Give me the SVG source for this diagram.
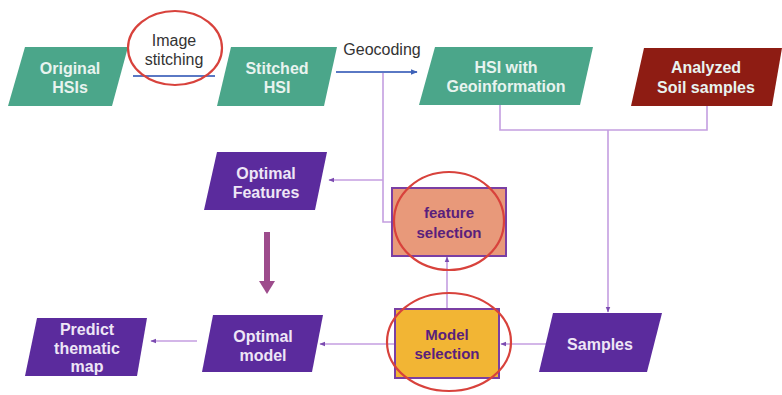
<svg xmlns="http://www.w3.org/2000/svg" width="782" height="395" viewBox="0 0 782 395">
<defs>
<style>
.teal{fill:#4ba68a}
.red{fill:#8e1c13}
.purp{fill:#5b2b9d}
.tw{font-family:"Liberation Sans",Arial,sans-serif;font-weight:bold;font-size:16px;fill:#e8f3ef;text-anchor:middle}
.pw{font-family:"Liberation Sans",Arial,sans-serif;font-weight:bold;font-size:16px;fill:#eee6f6;text-anchor:middle}
.dk{font-family:"Liberation Sans",Arial,sans-serif;font-weight:bold;font-size:15px;fill:#5a1f7c;text-anchor:middle}
.lbl{font-family:"Liberation Sans",Arial,sans-serif;font-size:16px;fill:#333;text-anchor:middle}
.conn{fill:none;stroke:#c49ee0;stroke-width:1.6}
.blue{fill:none;stroke:#5a78c4;stroke-width:2}
.ring{fill:none;stroke:#d8423c;stroke-width:2.2}
</style>
<marker id="ah" viewBox="0 0 10 10" refX="9" refY="5" markerWidth="6" markerHeight="6" orient="auto-start-reverse" markerUnits="userSpaceOnUse">
<path d="M0,1 L10,5 L0,9 z" fill="#7b4bb0"/>
</marker>
<marker id="ahb" viewBox="0 0 10 10" refX="9" refY="5" markerWidth="7" markerHeight="7" orient="auto" markerUnits="userSpaceOnUse">
<path d="M0,1 L10,5 L0,9 z" fill="#3e62b8"/>
</marker>
</defs>
<rect width="782" height="395" fill="#ffffff"/>

<g id="connectors">
<line class="blue" x1="133" y1="76" x2="215" y2="76"/>
<line class="blue" x1="336" y1="72" x2="417" y2="72" marker-end="url(#ahb)"/>
<polyline class="conn" points="383,73 383,222 392,222"/>
<line class="conn" x1="383" y1="180" x2="329" y2="180" marker-end="url(#ah)"/>
<polyline class="conn" points="500,105 500,130 707,130 707,106"/>
<line class="conn" x1="608" y1="130" x2="608" y2="312" marker-end="url(#ah)"/>
<line class="conn" x1="546" y1="344" x2="501" y2="344" marker-end="url(#ah)"/>
<line class="conn" x1="447" y1="309" x2="447" y2="257" marker-end="url(#ah)"/>
<line class="conn" x1="395" y1="344" x2="320" y2="344" marker-end="url(#ah)"/>
<line class="conn" x1="197" y1="341" x2="151" y2="341" marker-end="url(#ah)"/>
<line x1="267" y1="232" x2="267" y2="282" stroke="#9d4c8c" stroke-width="6"/>
<path d="M259,281 L275,281 L267,294 z" fill="#9d4c8c"/>
</g>

<g id="original-hsis">
<path class="teal" d="M25,47 L128,47 L112,106 L8,106 z"/>
<text class="tw" x="70" y="74">Original</text>
<text class="tw" x="70" y="93">HSIs</text>
</g>

<g id="image-stitching">
<text class="lbl" x="174" y="46">Image</text>
<text class="lbl" x="174" y="65">stitching</text>
<ellipse class="ring" cx="175" cy="48" rx="47" ry="37"/>
</g>

<g id="stitched-hsi">
<path class="teal" d="M231,47 L337,47 L324,106 L217,106 z"/>
<text class="tw" x="277" y="74">Stitched</text>
<text class="tw" x="277" y="93">HSI</text>
</g>

<g id="geocoding">
<text class="lbl" x="382" y="55">Geocoding</text>
</g>

<g id="hsi-geo">
<path class="teal" d="M435,47 L593,47 L580,105 L419,105 z"/>
<text class="tw" x="506" y="73">HSI with</text>
<text class="tw" x="506" y="92">Geoinformation</text>
</g>

<g id="analyzed-soil">
<path class="red" d="M644,48 L782,48 L772,106 L631,106 z"/>
<text class="tw" x="706" y="73">Analyzed</text>
<text class="tw" x="706" y="93">Soil samples</text>
</g>

<g id="optimal-features">
<path class="purp" d="M217,152 L327,152 L315,210 L204,210 z"/>
<text class="pw" x="266" y="179">Optimal</text>
<text class="pw" x="266" y="198">Features</text>
</g>

<g id="feature-selection">
<rect x="392" y="188" width="114" height="68" fill="#e8997a" stroke="#7a3fa3" stroke-width="2"/>
<text class="dk" x="449" y="218">feature</text>
<text class="dk" x="449" y="238">selection</text>
<ellipse class="ring" cx="449" cy="221" rx="55" ry="49"/>
</g>

<g id="model-selection">
<rect x="395" y="309" width="104" height="69" fill="#f2b534" stroke="#7a3fa3" stroke-width="2"/>
<text class="dk" x="447" y="340">Model</text>
<text class="dk" x="447" y="359">selection</text>
<ellipse class="ring" cx="449" cy="342" rx="62" ry="49"/>
</g>

<g id="samples">
<path class="purp" d="M553,313 L662,313 L647,372 L539,372 z"/>
<text class="pw" x="600" y="350">Samples</text>
</g>

<g id="optimal-model">
<path class="purp" d="M213,315 L323,315 L312,372 L202,372 z"/>
<text class="pw" x="263" y="342">Optimal</text>
<text class="pw" x="263" y="361">model</text>
</g>

<g id="predict-map">
<path class="purp" d="M37,318 L147,318 L137,376 L25,376 z"/>
<text class="pw" x="87" y="335">Predict</text>
<text class="pw" x="87" y="354">thematic</text>
<text class="pw" x="87" y="372">map</text>
</g>
</svg>
